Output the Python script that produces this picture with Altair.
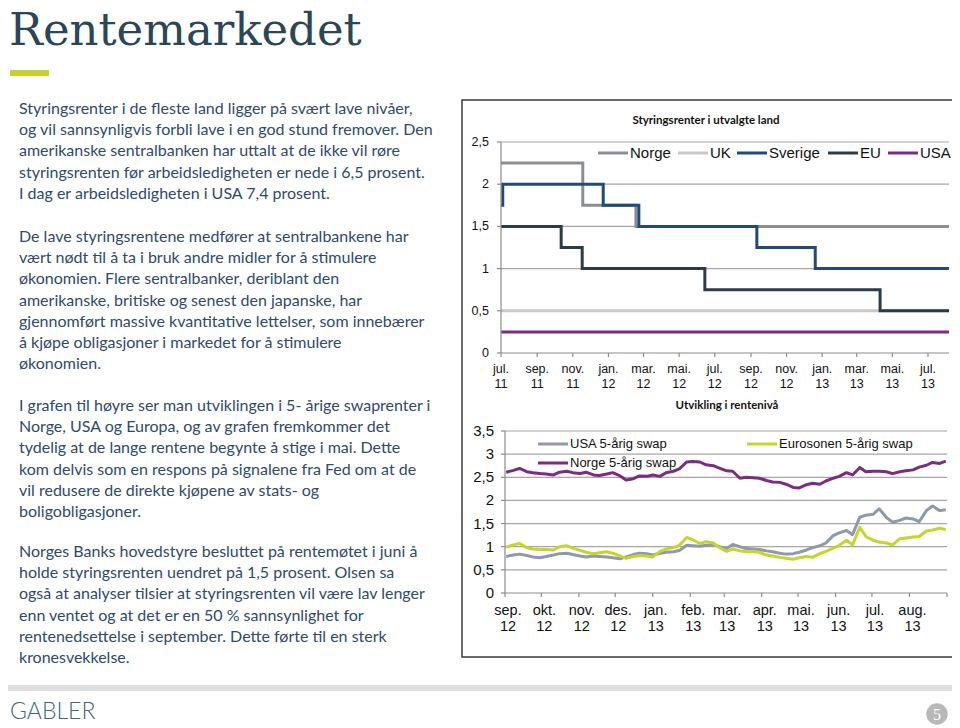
import altair as alt
import pandas as pd

# ---------------- data: policy rates (top chart) ----------------
norge_dates = ["2011-07-01", "2011-11-18", "2012-02-17", "2013-08-06"]
norge_vals = [2.25, 1.75, 1.5, 1.5]
uk_dates = ["2011-07-01", "2013-08-06"]
uk_vals = [0.5, 0.5]
sverige_dates = ["2011-07-01", "2011-07-04", "2011-12-23", "2012-02-22", "2012-09-11", "2012-12-20", "2013-08-06"]
sverige_vals = [1.75, 2.0, 1.75, 1.5, 1.25, 1.0, 1.0]
eu_dates = ["2011-07-01", "2011-10-12", "2011-11-17", "2012-06-14", "2013-04-10", "2013-08-06"]
eu_vals = [1.5, 1.25, 1.0, 0.75, 0.5, 0.5]
usa_dates = ["2011-07-01", "2013-08-06"]
usa_vals = [0.25, 0.25]

top_tick_dates = ["2011-07-01", "2011-09-01", "2011-11-01", "2012-01-01", "2012-03-01", "2012-05-01",
                  "2012-07-01", "2012-09-01", "2012-11-01", "2013-01-01", "2013-03-01", "2013-05-01", "2013-07-01"]
top_tick_months = ["jul.", "sep.", "nov.", "jan.", "mar.", "mai.", "jul.", "sep.", "nov.", "jan.", "mar.", "mai.", "jul."]
top_tick_years = ["11", "11", "11", "12", "12", "12", "12", "12", "12", "13", "13", "13", "13"]
top_y_ticks = [0, 0.5, 1, 1.5, 2, 2.5]
top_y_labels = ["0", "0,5", "1", "1,5", "2", "2,5"]
top_series = ["Norge", "UK", "Sverige", "EU", "USA"]

# ---------------- data: 5-year swaps (bottom chart) ----------------
swap_dates = ["2012-09-02", "2012-09-08", "2012-09-13", "2012-09-19", "2012-09-24", "2012-09-30",
              "2012-10-05", "2012-10-11", "2012-10-16", "2012-10-22", "2012-10-27",
              "2012-11-02", "2012-11-07", "2012-11-13", "2012-11-18", "2012-11-24", "2012-11-29",
              "2012-12-05", "2012-12-10", "2012-12-16", "2012-12-21", "2012-12-27",
              "2013-01-01", "2013-01-07", "2013-01-12", "2013-01-18", "2013-01-23", "2013-01-29",
              "2013-02-03", "2013-02-09", "2013-02-14", "2013-02-20", "2013-02-25",
              "2013-03-03", "2013-03-08", "2013-03-14", "2013-03-19", "2013-03-25", "2013-03-30",
              "2013-04-05", "2013-04-10", "2013-04-16", "2013-04-21", "2013-04-27",
              "2013-05-02", "2013-05-08", "2013-05-13", "2013-05-19", "2013-05-24", "2013-05-30",
              "2013-06-04", "2013-06-10", "2013-06-15", "2013-06-21", "2013-06-26",
              "2013-07-02", "2013-07-07", "2013-07-13", "2013-07-18", "2013-07-24", "2013-07-29",
              "2013-08-04", "2013-08-09", "2013-08-15", "2013-08-20", "2013-08-26", "2013-08-31"]
usa_swap = [0.79, 0.82, 0.84, 0.81, 0.78, 0.76, 0.79, 0.82, 0.85, 0.86,
            0.83, 0.80, 0.78, 0.80, 0.79, 0.78, 0.76, 0.74, 0.78, 0.83,
            0.86, 0.85, 0.82, 0.86, 0.88, 0.89, 0.92, 1.03, 1.02, 1.01,
            1.03, 1.05, 1.00, 0.96, 1.05, 1.00, 0.96, 0.95, 0.94, 0.91,
            0.89, 0.86, 0.84, 0.85, 0.88, 0.93, 0.98, 1.02, 1.08, 1.24,
            1.30, 1.35, 1.26, 1.64, 1.68, 1.70, 1.82, 1.63, 1.53, 1.57,
            1.62, 1.60, 1.54, 1.78, 1.88, 1.78, 1.80]
euro_swap = [0.99, 1.04, 1.07, 0.98, 0.95, 0.94, 0.94, 0.93, 1.00, 1.02,
             0.97, 0.92, 0.88, 0.85, 0.87, 0.89, 0.86, 0.80, 0.75, 0.79,
             0.81, 0.80, 0.78, 0.90, 0.95, 0.98, 1.03, 1.20, 1.15, 1.07,
             1.11, 1.08, 0.98, 0.90, 0.95, 0.91, 0.89, 0.89, 0.88, 0.82,
             0.80, 0.77, 0.75, 0.73, 0.76, 0.79, 0.77, 0.85, 0.90, 0.97,
             1.03, 1.14, 1.04, 1.42, 1.22, 1.14, 1.10, 1.08, 1.04, 1.17,
             1.19, 1.21, 1.22, 1.34, 1.36, 1.40, 1.37]
norge_swap = [2.61, 2.65, 2.69, 2.62, 2.60, 2.58, 2.57, 2.55, 2.61, 2.63,
              2.60, 2.58, 2.61, 2.55, 2.54, 2.57, 2.60, 2.53, 2.44, 2.47,
              2.53, 2.52, 2.55, 2.52, 2.60, 2.63, 2.68, 2.83, 2.84, 2.83,
              2.77, 2.75, 2.70, 2.64, 2.63, 2.48, 2.50, 2.49, 2.48, 2.43,
              2.40, 2.39, 2.35, 2.28, 2.27, 2.34, 2.37, 2.35, 2.42, 2.48,
              2.52, 2.60, 2.55, 2.71, 2.62, 2.63, 2.63, 2.62, 2.58, 2.62,
              2.64, 2.66, 2.72, 2.76, 2.82, 2.80, 2.85]

bot_tick_dates = ["2012-09-01", "2012-10-01", "2012-11-01", "2012-12-01", "2013-01-01", "2013-02-01",
                  "2013-03-01", "2013-04-01", "2013-05-01", "2013-06-01", "2013-07-01", "2013-08-01"]
bot_tick_end = ["2013-09-01"]
bot_tick_months = ["sep.", "okt.", "nov.", "des.", "jan.", "feb.", "mar.", "apr.", "mai.", "jun.", "jul.", "aug."]
bot_tick_years = ["12", "12", "12", "12", "13", "13", "13", "13", "13", "13", "13", "13"]
bot_y_ticks = [0, 0.5, 1, 1.5, 2, 2.5, 3, 3.5]
bot_y_labels = ["0", "0,5", "1", "1,5", "2", "2,5", "3", "3,5"]
swap_series = ["USA 5-årig swap", "Eurosonen 5-årig swap", "Norge 5-årig swap"]

# ---------------- text ----------------
slide_title = "Rentemarkedet"
top_title = "Styringsrenter i utvalgte land"
bot_title = "Utvikling i rentenivå"
paragraphs = [
    ["Styringsrenter i de fleste land ligger på svært lave nivåer,",
     "og vil sannsynligvis forbli lave i en god stund fremover. Den",
     "amerikanske sentralbanken har uttalt at de ikke vil røre",
     "styringsrenten før arbeidsledigheten er nede i 6,5 prosent.",
     "I dag er arbeidsledigheten i USA 7,4 prosent."],
    ["De lave styringsrentene medfører at sentralbankene har",
     "vært nødt til å ta i bruk andre midler for å stimulere",
     "økonomien. Flere sentralbanker, deriblant den",
     "amerikanske, britiske og senest den japanske, har",
     "gjennomført massive kvantitative lettelser, som innebærer",
     "å kjøpe obligasjoner i markedet for å stimulere",
     "økonomien."],
    ["I grafen til høyre ser man utviklingen i 5- årige swaprenter i",
     "Norge, USA og Europa, og av grafen fremkommer det",
     "tydelig at de lange rentene begynte å stige i mai. Dette",
     "kom delvis som en respons på signalene fra Fed om at de",
     "vil redusere de direkte kjøpene av stats- og",
     "boligobligasjoner."],
    ["Norges Banks hovedstyre besluttet på rentemøtet i juni å",
     "holde styringsrenten uendret på 1,5 prosent. Olsen sa",
     "også at analyser tilsier at styringsrenten vil være lav lenger",
     "enn ventet og at det er en 50 % sannsynlighet for",
     "rentenedsettelse i september. Dette førte til en sterk",
     "kronesvekkelse."],
]
logo_text = "GABLER"
page_no = "5"

# ---------------- layout / style ----------------
OFF = 8
def PX(p): return p - OFF

SANS = "Liberation Sans"
BODY = "Lato"
TXT = "#2f4a6b"
top_colors = ["#8b8f94", "#c9c9c9", "#1f4a7a", "#2c3b47", "#7b2d81"]
swap_colors = ["#8e99aa", "#c6d52c", "#7b2c80"]
GRID = "#a6a6a6"
AXIS = "#8c8c8c"

def d(y, m, dd):
    return alt.DateTime(year=y, month=m, date=dd, utc=True)

def top_x():
    return alt.Scale(type="utc", domain=[d(2011, 7, 1), d(2013, 8, 6)], range=[PX(501), PX(949)], nice=False)

def top_y():
    return alt.Scale(domain=[0, 2.5], range=[PX(353), PX(142)], nice=False, zero=False)

def bot_x():
    return alt.Scale(type="utc", domain=[d(2012, 9, 1), d(2013, 9, 1)], range=[PX(505), PX(947)], nice=False)

def bot_y():
    return alt.Scale(domain=[0, 3.5], range=[PX(593), PX(431)], nice=False, zero=False)

def one():
    return pd.DataFrame({"a": [0]})

layers = []

# chart box
layers.append(alt.Chart(one()).mark_rect(fill="white", stroke="#3a3a3a", strokeWidth=1.5).encode(
    x=alt.value(PX(462)), x2=alt.value(PX(957)), y=alt.value(PX(100)), y2=alt.value(PX(657))))

# ---- top chart ----
layers.append(alt.Chart(pd.DataFrame({"v": top_y_ticks[1:]})).mark_rule(color=GRID, strokeWidth=1.2).encode(
    y=alt.Y("v:Q", scale=top_y(), axis=None), x=alt.value(PX(501)), x2=alt.value(PX(949))))

for dates, vals, col in zip([norge_dates, uk_dates, sverige_dates, eu_dates, usa_dates],
                            [norge_vals, uk_vals, sverige_vals, eu_vals, usa_vals], top_colors):
    df = pd.DataFrame({"date": dates, "value": vals})
    layers.append(alt.Chart(df).mark_line(interpolate="step-after", color=col, strokeWidth=3).encode(
        x=alt.X("date:T", scale=top_x(), axis=None), y=alt.Y("value:Q", scale=top_y(), axis=None)))

# top axes
layers.append(alt.Chart(one()).mark_rule(color=AXIS, strokeWidth=1.2).encode(
    x=alt.value(PX(501)), x2=alt.value(PX(949)), y=alt.value(PX(353))))
layers.append(alt.Chart(one()).mark_rule(color=AXIS, strokeWidth=1.2).encode(
    x=alt.value(PX(501)), y=alt.value(PX(142)), y2=alt.value(PX(353))))
ttick = pd.DataFrame({"date": top_tick_dates, "m": top_tick_months, "yr": top_tick_years})
layers.append(alt.Chart(ttick).mark_rule(color=AXIS, strokeWidth=1.2).encode(
    x=alt.X("date:T", scale=top_x(), axis=None), y=alt.value(PX(353)), y2=alt.value(PX(357))))
layers.append(alt.Chart(ttick).mark_text(font=SANS, fontSize=12.5, color="#111", baseline="middle").encode(
    x=alt.X("date:T", scale=top_x(), axis=None), y=alt.value(PX(369)), text="m:N"))
layers.append(alt.Chart(ttick).mark_text(font=SANS, fontSize=12.5, color="#111", baseline="middle").encode(
    x=alt.X("date:T", scale=top_x(), axis=None), y=alt.value(PX(384)), text="yr:N"))
ytick = pd.DataFrame({"v": top_y_ticks, "lab": top_y_labels})
layers.append(alt.Chart(ytick).mark_rule(color=AXIS, strokeWidth=1.2).encode(
    y=alt.Y("v:Q", scale=top_y(), axis=None), x=alt.value(PX(497)), x2=alt.value(PX(501))))
layers.append(alt.Chart(ytick).mark_text(font=SANS, fontSize=12.5, color="#111", align="right", baseline="middle").encode(
    y=alt.Y("v:Q", scale=top_y(), axis=None), x=alt.value(PX(489)), text="lab:N"))

# top title & legend
layers.append(alt.Chart(one()).mark_text(text=top_title, font=BODY, fontSize=11.5, fontWeight="bold",
                                         color="#111", baseline="middle").encode(
    x=alt.value(PX(706)), y=alt.value(PX(121))))
leg_x = [598, 678, 737, 828, 888]
for name, col, lx in zip(top_series, top_colors, leg_x):
    layers.append(alt.Chart(one()).mark_rule(color=col, strokeWidth=3).encode(
        x=alt.value(PX(lx)), x2=alt.value(PX(lx + 30)), y=alt.value(PX(153))))
    layers.append(alt.Chart(one()).mark_text(text=name, font=SANS, fontSize=15, color="#111",
                                             align="left", baseline="middle").encode(
        x=alt.value(PX(lx + 32)), y=alt.value(PX(153))))

# ---- bottom chart ----
layers.append(alt.Chart(pd.DataFrame({"v": bot_y_ticks[1:]})).mark_rule(color=GRID, strokeWidth=1.2).encode(
    y=alt.Y("v:Q", scale=bot_y(), axis=None), x=alt.value(PX(505)), x2=alt.value(PX(947))))
for vals, col in zip([usa_swap, euro_swap, norge_swap], swap_colors):
    df = pd.DataFrame({"date": swap_dates, "value": vals})
    layers.append(alt.Chart(df).mark_line(color=col, strokeWidth=3, strokeJoin="round").encode(
        x=alt.X("date:T", scale=bot_x(), axis=None), y=alt.Y("value:Q", scale=bot_y(), axis=None)))

layers.append(alt.Chart(one()).mark_rule(color=AXIS, strokeWidth=1.2).encode(
    x=alt.value(PX(505)), x2=alt.value(PX(947)), y=alt.value(PX(593))))
layers.append(alt.Chart(one()).mark_rule(color=AXIS, strokeWidth=1.2).encode(
    x=alt.value(PX(505)), y=alt.value(PX(431)), y2=alt.value(PX(593))))
btick = pd.DataFrame({"date": bot_tick_dates, "m": bot_tick_months, "yr": bot_tick_years})
bmarks = pd.DataFrame({"date": bot_tick_dates + bot_tick_end})
layers.append(alt.Chart(bmarks).mark_rule(color=AXIS, strokeWidth=1.2).encode(
    x=alt.X("date:T", scale=bot_x(), axis=None), y=alt.value(PX(593)), y2=alt.value(PX(597))))
layers.append(alt.Chart(btick).mark_text(font=SANS, fontSize=14.5, color="#111", baseline="middle", dx=3).encode(
    x=alt.X("date:T", scale=bot_x(), axis=None), y=alt.value(PX(611)), text="m:N"))
layers.append(alt.Chart(btick).mark_text(font=SANS, fontSize=14.5, color="#111", baseline="middle", dx=3).encode(
    x=alt.X("date:T", scale=bot_x(), axis=None), y=alt.value(PX(627)), text="yr:N"))
bytick = pd.DataFrame({"v": bot_y_ticks, "lab": bot_y_labels})
layers.append(alt.Chart(bytick).mark_rule(color=AXIS, strokeWidth=1.2).encode(
    y=alt.Y("v:Q", scale=bot_y(), axis=None), x=alt.value(PX(501)), x2=alt.value(PX(505))))
layers.append(alt.Chart(bytick).mark_text(font=SANS, fontSize=15, color="#111", align="right", baseline="middle").encode(
    y=alt.Y("v:Q", scale=bot_y(), axis=None), x=alt.value(PX(494)), text="lab:N"))

layers.append(alt.Chart(one()).mark_text(text=bot_title, font=BODY, fontSize=11.5, fontWeight="bold",
                                         color="#111", baseline="middle").encode(
    x=alt.value(PX(727)), y=alt.value(PX(406))))
bleg = [(538, 444), (747, 444), (538, 463)]
for name, col, (lx, ly) in zip(swap_series, swap_colors, bleg):
    layers.append(alt.Chart(one()).mark_rule(color=col, strokeWidth=3).encode(
        x=alt.value(PX(lx)), x2=alt.value(PX(lx + 30)), y=alt.value(PX(ly))))
    layers.append(alt.Chart(one()).mark_text(text=name, font=SANS, fontSize=13, color="#111",
                                             align="left", baseline="middle").encode(
        x=alt.value(PX(lx + 32)), y=alt.value(PX(ly))))

# ---- slide header ----
layers.append(alt.Chart(one()).mark_text(text=slide_title, font="DejaVu Serif", fontSize=45,
                                         color="#2a4657", align="left", baseline="alphabetic").encode(
    x=alt.value(PX(9)), y=alt.value(PX(45))))
layers.append(alt.Chart(one()).mark_rect(color="#c5d22a").encode(
    x=alt.value(PX(10)), x2=alt.value(PX(49)), y=alt.value(PX(70)), y2=alt.value(PX(76))))

# ---- body text ----
para_start = [109, 237, 406, 552]
LINE = 21.2
rows = []
for start, lines in zip(para_start, paragraphs):
    for i, t in enumerate(lines):
        rows.append({"t": t, "py": PX(start + i * LINE)})
body = pd.DataFrame(rows)
layers.append(alt.Chart(body).mark_text(font=BODY, fontSize=16, color=TXT, align="left", baseline="middle").encode(
    x=alt.value(PX(19)), y=alt.Y("py:Q", scale=None, axis=None), text="t:N"))

# ---- footer ----
layers.append(alt.Chart(one()).mark_rect(color="#dedede").encode(
    x=alt.value(PX(8)), x2=alt.value(PX(958)), y=alt.value(PX(685)), y2=alt.value(PX(691))))
layers.append(alt.Chart(one()).mark_text(text=logo_text, font=BODY, fontSize=23, fontWeight=300,
                                         color="#3d6784", align="left", baseline="middle").encode(
    x=alt.value(PX(10)), y=alt.value(PX(712))))
layers.append(alt.Chart(one()).mark_circle(size=460, color="#b8b8b8", opacity=1).encode(
    x=alt.value(PX(937)), y=alt.value(PX(714))))
layers.append(alt.Chart(one()).mark_text(text=page_no, font="Liberation Serif", fontSize=16,
                                         color="white", baseline="middle").encode(
    x=alt.value(PX(937)), y=alt.value(PX(715))))

chart = alt.layer(*layers).resolve_scale(x="independent", y="independent").properties(
    width=944, height=720, padding=0, background="white",
    autosize=alt.AutoSizeParams(type="none"),
).configure_view(stroke=None)

chart.save("out.html", embed_options={"renderer": "svg", "actions": False})
